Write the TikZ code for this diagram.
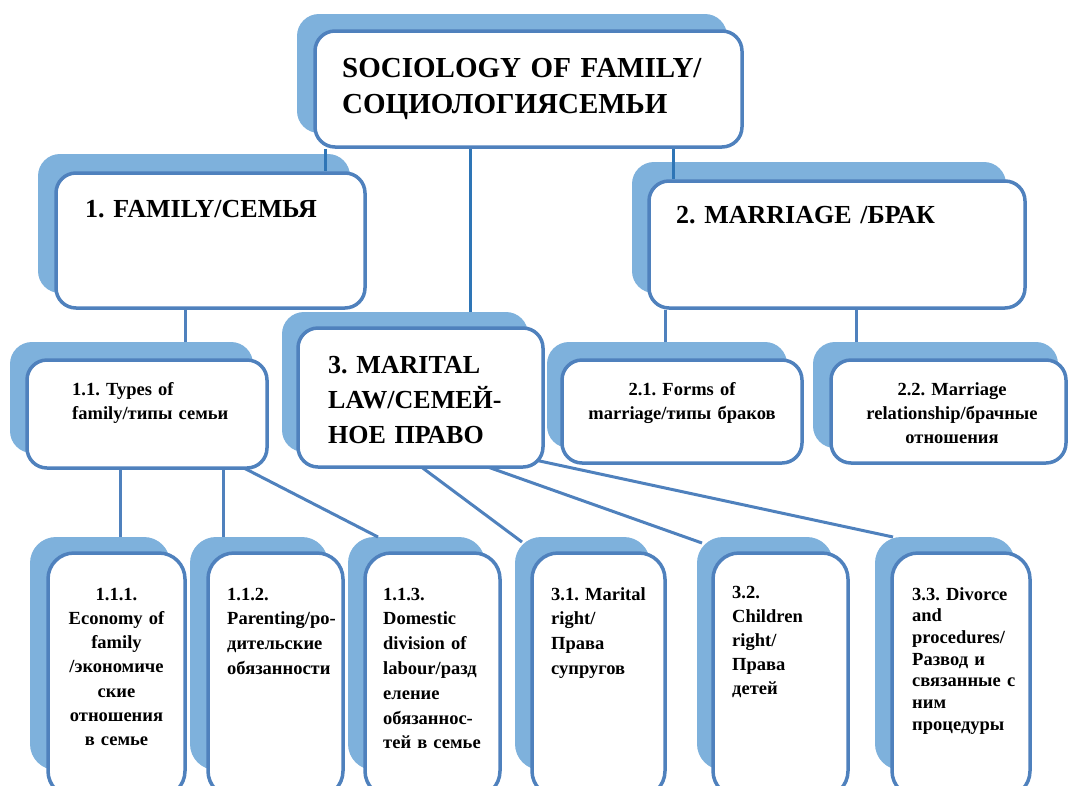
\documentclass[tikz,border=0pt]{standalone}
\usepackage{fontspec}
\setmainfont{Liberation Serif}
\usetikzlibrary{fit}
\definecolor{shade}{HTML}{7EB1DC}
\definecolor{edge}{HTML}{4F81BD}
\definecolor{topline}{HTML}{2E75B6}
\pgfdeclarelayer{back}
\pgfdeclarelayer{lines}
\pgfsetlayers{back,lines,main}
\frenchspacing
\begin{document}
\begin{tikzpicture}[x=1pt,y=-1pt,
  shadowbox/.style={fill=shade, draw=none, rounded corners=22pt, inner sep=0pt},
  frontbox/.style={fill=white, draw=edge, line width=3.5pt, rounded corners=20pt, inner sep=0pt},
  tallshadow/.style={shadowbox, rounded corners=26pt},
  tallbox/.style={frontbox, rounded corners=26pt},
  link/.style={draw=edge, line width=3pt},
  toplink/.style={draw=topline, line width=3pt},
  bigtxt/.style={font=\bfseries\fontsize{29}{36}\selectfont, anchor=base west, inner sep=0pt, text width=400pt, align=left},
  headtxt/.style={font=\bfseries\fontsize{26}{35}\selectfont, anchor=base west, inner sep=0pt, text width=300pt, align=left},
  smalltxt/.style={font=\bfseries\fontsize{18.5}{24.8}\selectfont, anchor=base west, inner sep=0pt, text width=200pt, align=left},
  smallc/.style={font=\bfseries\fontsize{18.5}{24.3}\selectfont, anchor=base, inner sep=0pt, text width=260pt, align=center}
]
\useasboundingbox (0,0) rectangle (1073,785);
\clip (0,0) rectangle (1073,785);

% named points for connectors
\coordinate (xa) at (325,0);
\coordinate (xb) at (470,0);
\coordinate (xc) at (673,0);
\coordinate (xd) at (185,0);
\coordinate (xe) at (665,0);
\coordinate (xf) at (856,0);
\coordinate (xg) at (120,0);
\coordinate (xh) at (223,0);
\coordinate (s113) at (240,466);
\coordinate (e113) at (378,537);
\coordinate (s31) at (420,466);
\coordinate (e31) at (522,542);
\coordinate (s32) at (485,466);
\coordinate (e32) at (702,543);
\coordinate (s33) at (535,460);
\coordinate (e33) at (893,537);

% shadows
\begin{pgfonlayer}{back}
\node[shadowbox, fit={(297,14) (727,133)}] (tops) {};
\node[shadowbox, fit={(38,154) (350,293)}] (fams) {};
\node[shadowbox, fit={(632,162) (1006,293)}] (mars) {};
\node[shadowbox, fit={(10,342) (253,453)}] (t11s) {};
\node[shadowbox, fit={(282,312) (528,452)}] (laws) {};
\node[shadowbox, fit={(547,342) (787,448)}] (f21s) {};
\node[shadowbox, fit={(813,342) (1058,448)}] (f22s) {};
\node[tallshadow, fit={(30,537) (170,770)}] (b111s) {};
\node[tallshadow, fit={(190,537) (328,770)}] (b112s) {};
\node[tallshadow, fit={(348,537) (485,770)}] (b113s) {};
\node[tallshadow, fit={(515,537) (650,770)}] (b31s) {};
\node[tallshadow, fit={(697,537) (833,770)}] (b32s) {};
\node[tallshadow, fit={(875,537) (1015,770)}] (b33s) {};
\end{pgfonlayer}

% fronts
\node[frontbox, fit={(315,31) (742,147)}] (top) {};
\node[frontbox, fit={(56,173) (365,308)}] (fam) {};
\node[frontbox, fit={(649,181) (1025,308)}] (mar) {};
\node[frontbox, fit={(27,360) (267,468)}] (t11) {};
\node[frontbox, fit={(298,328) (543,467)}] (law) {};
\node[frontbox, fit={(562,360) (802,463)}] (f21) {};
\node[frontbox, fit={(831,360) (1066,463)}] (f22) {};
\node[tallbox, fit={(48,553) (185,797)}] (b111) {};
\node[tallbox, fit={(208,553) (343,797)}] (b112) {};
\node[tallbox, fit={(365,553) (500,797)}] (b113) {};
\node[tallbox, fit={(532,553) (665,797)}] (b31) {};
\node[tallbox, fit={(713,553) (848,797)}] (b32) {};
\node[tallbox, fit={(892,553) (1030,797)}] (b33) {};

% connectors: over the shadows, under the white boxes
\begin{pgfonlayer}{lines}
\draw[toplink] (top.south -| xa) -- (fam.north -| xa);
\draw[toplink] (top.south -| xc) -- (mar.north -| xc);
\draw[toplink] (top.south -| xb) -- (laws.north -| xb);
\draw[link] (fam.south -| xd) -- (t11s.north -| xd);
\draw[link] (mar.south -| xe) -- (f21s.north -| xe);
\draw[link] (mar.south -| xf) -- (f22s.north -| xf);
\draw[link] (t11.south -| xg) -- (b111s.north -| xg);
\draw[link] (t11.south -| xh) -- (b112s.north -| xh);
\draw[link] (s113) -- (e113);
\draw[link] (s31) -- (e31);
\draw[link] (s32) -- (e32);
\draw[link] (s33) -- (e33);
\end{pgfonlayer}

% texts
\node[bigtxt] (ttop) at (342,77) {SOCIOLOGY OF FAMILY/\\СОЦИОЛОГИЯСЕМЬИ};
\node[headtxt] (tfam) at (85,217) {1. FAMILY/СЕМЬЯ};
\node[headtxt] (tmar) at (676,223) {2. MARRIAGE /БРАК};
\node[headtxt] (tlaw) at (328,373) {3. MARITAL\\LAW/СЕМЕЙ-\\НОЕ ПРАВО};
\node[smalltxt] (tt11) at (72,395) {1.1. Types of\\family/типы семьи};
\node[smallc] (tf21) at (682,395) {2.1. Forms of\\marriage/типы браков};
\node[smallc] (tf22) at (952,395) {2.2. Marriage\\relationship/брачные\\отношения};
\node[smallc, text width=150pt] (tb111) at (116.5,600) {1.1.1.\\Economy of\\family\\/экономиче\\ские\\отношения\\в семье};
\node[smalltxt] (tb112) at (227,600) {1.1.2.\\Parenting/ро-\\дительские\\обязанности};
\node[smalltxt] (tb113) at (383,600) {1.1.3.\\Domestic\\division of\\labour/разд\\еление\\обязаннос-\\тей в семье};
\node[smalltxt] (tb31) at (551,600) {3.1. Marital\\right/\\Права\\супругов};
\node[smalltxt, font=\bfseries\fontsize{18.5}{24}\selectfont] (tb32) at (732,598) {3.2.\\Children\\right/\\Права\\детей};
\node[smalltxt, font=\bfseries\fontsize{18.5}{21.7}\selectfont] (tb33) at (912,600) {3.3. Divorce\\and\\procedures/\\Развод и\\связанные с\\ним\\процедуры};
\end{tikzpicture}
\end{document}
